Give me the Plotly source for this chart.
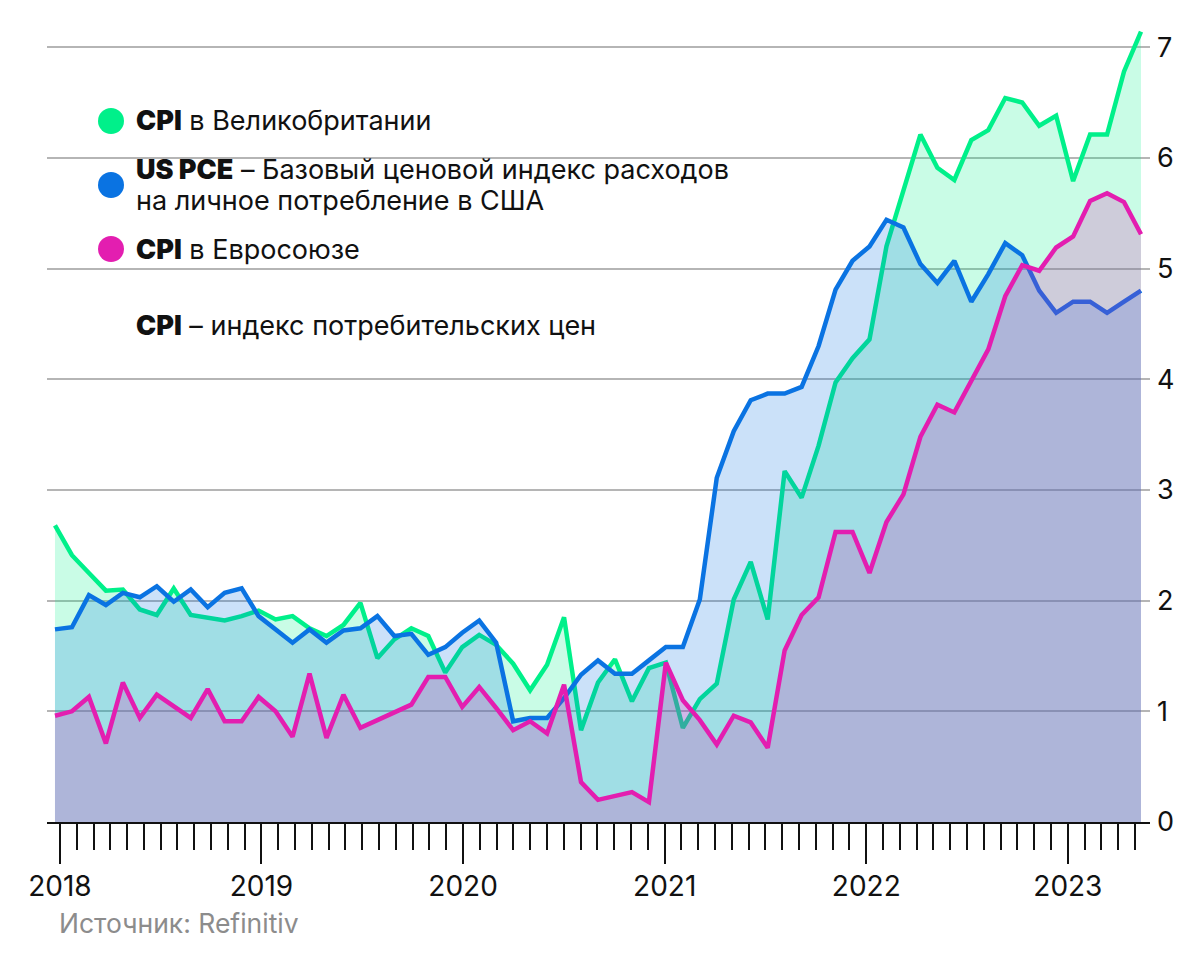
import plotly.graph_objects as go

# ---------------- data (monthly, Jan 2018 .. May 2023) ----------------
months_count = 65
year_labels = ["2018", "2019", "2020", "2021", "2022", "2023"]

uk_cpi = [2.68, 2.41, 2.25, 2.09, 2.10, 1.92, 1.87, 2.11, 1.87, 1.85, 1.82, 1.86,
          1.91, 1.83, 1.86, 1.75, 1.68, 1.78, 1.98, 1.48, 1.65, 1.75, 1.68, 1.35,
          1.58, 1.69, 1.60, 1.43, 1.19, 1.42, 1.85, 0.83, 1.26, 1.47, 1.09, 1.39,
          1.44, 0.85, 1.11, 1.25, 2.01, 2.35, 1.83, 3.17, 2.93, 3.40, 3.97, 4.19,
          4.36, 5.20, 5.70, 6.21, 5.91, 5.80, 6.16, 6.25, 6.54, 6.50, 6.29, 6.38,
          5.79, 6.21, 6.21, 6.78, 7.14]

us_pce = [1.74, 1.76, 2.05, 1.96, 2.07, 2.03, 2.13, 1.99, 2.10, 1.94, 2.07, 2.11,
          1.86, 1.74, 1.62, 1.74, 1.62, 1.73, 1.75, 1.86, 1.68, 1.70, 1.51, 1.58,
          1.71, 1.82, 1.62, 0.91, 0.94, 0.94, 1.12, 1.33, 1.46, 1.34, 1.34, 1.46,
          1.58, 1.58, 2.01, 3.11, 3.53, 3.81, 3.87, 3.87, 3.93, 4.30, 4.81, 5.07,
          5.20, 5.44, 5.37, 5.04, 4.87, 5.07, 4.70, 4.95, 5.23, 5.12, 4.80, 4.60,
          4.70, 4.70, 4.60, 4.70, 4.80]

eu_cpi = [0.96, 1.00, 1.13, 0.71, 1.26, 0.94, 1.15, 1.04, 0.94, 1.20, 0.91, 0.91,
          1.13, 1.00, 0.77, 1.34, 0.76, 1.15, 0.85, 0.92, 0.99, 1.06, 1.31, 1.31,
          1.04, 1.22, 1.03, 0.83, 0.91, 0.80, 1.24, 0.36, 0.20, 0.23, 0.27, 0.18,
          1.44, 1.10, 0.92, 0.70, 0.96, 0.90, 0.67, 1.55, 1.87, 2.03, 2.62, 2.62,
          2.25, 2.71, 2.96, 3.48, 3.77, 3.70, 3.98, 4.27, 4.75, 5.03, 4.98, 5.19,
          5.29, 5.61, 5.68, 5.60, 5.31]

y_ticks = [0, 1, 2, 3, 4, 5, 6, 7]

BOLD = '<span style="font-weight:900">{}</span>'
legend_lines = [
    [BOLD.format("CPI") + " в Великобритании"],
    [BOLD.format("US PCE") + " – Базовый ценовой индекс расходов",
     "на личное потребление в США"],
    [BOLD.format("CPI") + " в Евросоюзе"],
]
note_text = BOLD.format("CPI") + " – индекс потребительских цен"
source_text = "Источник: Refinitiv"

# ---------------- styling ----------------
GREEN, BLUE, MAGENTA = "#00F08A", "#0A73E2", "#E31EB0"
COLORS = [GREEN, BLUE, MAGENTA]
FONT = "Inter, 'Noto Sans', sans-serif"

OFF = 8                      # default body margin of the html page
W, H = 1200 - OFF, 972 - OFF
ML, MR, MT, MB = 47 - OFF, 50, 25 - OFF, 150
PW, PH = W - ML - MR, H - MT - MB
X_RANGE = [-0.47, months_count - 1 + 0.53]
TICK_OFFSET, TICK_STEP = 0.29, 0.99


def px(xp):  # page pixel -> paper
    return (xp - OFF - ML) / PW


def py(yp):
    return (H - MB - (yp - OFF)) / PH


x = list(range(months_count))


def rgba(hexc, a):
    h = hexc.lstrip("#")
    r, g, b = int(h[0:2], 16), int(h[2:4], 16), int(h[4:6], 16)
    return f"rgba({r},{g},{b},{a})"


fig = go.Figure()
for series, col in zip([uk_cpi, us_pce, eu_cpi], COLORS):
    fig.add_trace(go.Scatter(
        x=x, y=series, mode="lines",
        line=dict(color=col, width=4.5, shape="linear"),
        fill="tozeroy", fillcolor=rgba(col, 0.21),
        hoverinfo="skip", showlegend=False,
    ))

major_vals = [TICK_OFFSET + TICK_STEP * k for k in range(0, months_count, 12)]
minor_vals = [TICK_OFFSET + TICK_STEP * k for k in range(months_count) if k % 12 != 0]

fig.update_layout(
    width=W, height=H,
    margin=dict(l=ML, r=MR, t=MT, b=MB),
    paper_bgcolor="white", plot_bgcolor="white",
    font=dict(family=FONT, size=27, color="#111111"),
    xaxis=dict(
        range=X_RANGE, tickmode="array", tickvals=major_vals, ticktext=year_labels,
        ticks="outside", ticklen=40, tickwidth=2, tickcolor="#111111",
        showline=True, linecolor="#111111", linewidth=2,
        showgrid=False, zeroline=False, fixedrange=True,
        tickfont=dict(size=28, color="#111111"), ticklabelstandoff=-2,
        minor=dict(tickmode="array", tickvals=minor_vals, ticks="outside",
                   ticklen=26, tickwidth=2, tickcolor="#111111", showgrid=False),
    ),
    yaxis=dict(
        range=[0, 7.2], side="right", tickmode="array", tickvals=y_ticks,
        showgrid=True, gridcolor="#B5B5B5", gridwidth=1.5, zeroline=False,
        ticks="", tickfont=dict(size=27, color="#111111"), ticklabelstandoff=6,
        fixedrange=True,
    ),
)

# legend built from annotations + circle shapes
legend_circle_y = [121, 185, 249]
legend_text_y = [[121], [170, 200], [249]]
for lines, col, yc, ys in zip(legend_lines, COLORS, legend_circle_y, legend_text_y):
    r = 13
    fig.add_shape(type="circle", xref="paper", yref="paper",
                  x0=px(111 - r), x1=px(111 + r), y0=py(yc + r), y1=py(yc - r),
                  fillcolor=col, line=dict(width=0))
    for text, yl in zip(lines, ys):
        fig.add_annotation(xref="paper", yref="paper", x=px(134), y=py(yl),
                           text=text, showarrow=False, xanchor="left", yanchor="middle",
                           align="left", font=dict(size=27, color="#111111"))

fig.add_annotation(xref="paper", yref="paper", x=px(134), y=py(325),
                   text=note_text, showarrow=False, xanchor="left", yanchor="middle",
                   align="left", font=dict(size=27, color="#111111"))
fig.add_annotation(xref="paper", yref="paper", x=px(57), y=py(923),
                   text=source_text, showarrow=False, xanchor="left", yanchor="middle",
                   align="left", font=dict(size=26.5, color="#8C8C8C"))

fig.write_html("out.html")
